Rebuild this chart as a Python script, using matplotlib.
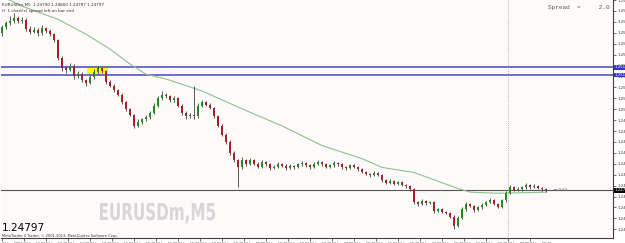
import numpy as np
import matplotlib
matplotlib.use('Agg')
import matplotlib.pyplot as plt
from matplotlib.textpath import TextPath
from matplotlib.patches import PathPatch
from matplotlib.font_manager import FontProperties
from matplotlib.transforms import Affine2D

# prices in points above 1.24000 (1 point = 0.00001)
opens = [1230,1245,1256,1262,1270,1262,1266,1240,1232,1238,
         1228,1242,1236,1226,1210,1160,1132,1128,1140,1110,
         1118,1100,1092,1108,1122,1132,1124,1096,1085,1072,
         1060,1040,1020,1005,975,985,992,998,1010,1030,
         1050,1060,1055,1044,1050,1030,1010,1000,1004,1000,
         1030,1040,1032,1024,1000,975,950,930,900,880,
         860,880,870,880,870,862,875,868,858,862,
         870,865,858,864,860,868,872,866,860,870,
         875,868,862,866,872,868,860,858,866,862,
         855,848,842,838,845,840,825,818,822,815,
         820,812,808,800,765,760,768,762,764,740,
         745,738,735,725,700,722,745,760,755,742,
         750,758,765,770,760,752,770,790,805,798,
         800,806,812,806,810,804,800]
closes = [1245,1256,1262,1270,1262,1266,1240,1232,1238,1228,
          1242,1236,1226,1210,1160,1132,1128,1140,1110,1118,
          1100,1092,1108,1122,1132,1124,1096,1085,1072,1060,
          1040,1020,1005,975,985,992,998,1010,1030,1050,
          1060,1055,1044,1050,1030,1010,1000,1004,1000,1030,
          1040,1032,1024,1000,975,950,930,900,880,860,
          880,870,880,870,862,875,868,858,862,870,
          865,858,864,860,868,872,866,860,870,875,
          868,862,866,872,868,860,858,866,862,855,
          848,842,838,845,840,825,818,822,815,820,
          812,808,800,765,760,768,762,764,740,745,
          738,735,725,700,722,745,760,755,742,750,
          758,765,770,760,752,770,790,805,798,800,
          806,812,806,810,804,800,797]
highs = [1252,1262,1275,1285,1276,1272,1270,1248,1245,1242,
         1250,1246,1240,1230,1214,1166,1140,1146,1143,1124,
         1121,1104,1114,1130,1138,1136,1128,1100,1090,1076,
         1064,1043,1024,1008,992,996,1004,1015,1036,1056,
         1070,1064,1058,1056,1053,1034,1014,1010,1084,1036,
         1046,1043,1036,1027,1004,978,955,934,904,884,
         888,884,886,883,874,880,878,871,867,876,
         873,868,869,867,873,878,875,869,875,880,
         878,871,870,877,875,871,864,870,869,865,
         858,851,845,850,848,843,828,827,825,824,
         823,815,811,803,769,772,771,768,767,749,
         748,741,738,728,726,750,765,763,758,754,
         762,769,775,773,763,774,795,812,808,806,
         810,818,815,814,813,807,803]
lows = [1222,1240,1252,1258,1256,1258,1234,1226,1228,1222,
        1224,1230,1220,1205,1154,1126,1120,1124,1104,1106,
        1094,1084,1088,1104,1118,1120,1090,1080,1068,1055,
        1035,1015,1000,968,970,980,988,994,1006,1026,
        1046,1050,1040,1040,1026,1004,994,995,993,996,
        1026,1028,1020,996,970,945,925,895,874,805,
        855,865,866,866,857,858,864,854,855,858,
        861,854,855,856,857,864,862,856,857,866,
        864,858,859,862,864,856,854,855,858,851,
        844,838,834,835,836,820,814,815,811,812,
        808,804,796,760,755,757,758,759,736,737,
        734,731,720,690,696,718,741,751,738,739,
        746,754,761,756,748,749,766,786,794,795,
        796,802,802,803,800,796,793]

# moving average, read at a few bars
ma_idx = [0, 5, 14, 21, 27, 32, 36, 41, 50, 60, 70, 80, 90, 95, 103, 114, 117, 124, 136]
ma_pts = [1330, 1303, 1267, 1226, 1185, 1144, 1116, 1103, 1070, 1021, 974, 920, 884, 860, 846, 802, 792, 789, 792]

level_pts = [1135, 1114]   # blue horizontal lines
last_pts = 797
zone_bars = [21.25, 26.5]  # yellow box, bars
zone_pts = [1111, 1138]
day_sep = 126.5

time_labels = ['11 Jun 2013', '11 Jun 13:00', '11 Jun 13:30', '11 Jun 14:00', '11 Jun 14:30',
               '11 Jun 15:00', '11 Jun 15:30', '11 Jun 16:00', '11 Jun 16:30', '11 Jun 17:00',
               '11 Jun 17:30', '11 Jun 18:00', '11 Jun 18:30', '11 Jun 19:00', '11 Jun 19:30',
               '11 Jun 20:00', '11 Jun 20:30', '11 Jun 21:00', '11 Jun 21:30', '11 Jun 22:00',
               '11 Jun 22:30', '11 Jun 23:00', '11 Jun 23:30', '12 Jun 00:00', '12 Jun 00:30']

def px(p):
    return 1.24 + np.asarray(p, dtype=float)/1e5

o = px(opens); c = px(closes); h = px(highs); l = px(lows)
idx = np.arange(len(o))
up = c >= o

fig = plt.figure(figsize=(6.25, 2.43), dpi=100, facecolor='white')
ax = fig.add_axes([1/625, 5/243, 612/625, 238/243])
ax.set_facecolor('#fffafa')

ax.fill_between(zone_bars, px(zone_pts[0]), px(zone_pts[1]), color='#ffff00', lw=0, zorder=1)
for lv in level_pts:
    ax.axhline(px(lv), color='#6262c8', lw=1.3, zorder=2)
ax.axhline(px(last_pts), color='#555555', lw=0.8, zorder=2)
ax.axvline(day_sep, color='#a0a0a0', lw=0.6, ls=(0, (1, 1.5)), zorder=2)

ax.plot(ma_idx, px(ma_pts), color='#8fbf8f', lw=0.8, zorder=3)
ax.vlines(idx, l, h, color='#404040', lw=0.6, zorder=4)
body = np.where(np.abs(c - o) < 1e-6, 1e-6, c - o)
ax.bar(idx, body, bottom=o, width=0.72, color=np.where(up, '#218a21', '#a3222e'), lw=0, zorder=5)

ax.set_xlim(-0.25, 152.75)
ax.set_ylim(px(666), px(1316))

yt = np.arange(1.2469, 1.2532, 0.0003)
ax.yaxis.tick_right()
ax.set_yticks(yt)
ax.set_yticklabels(['%.5f' % v for v in yt], fontsize=2.8, color='#333333')
ax.set_xticks(np.arange(len(time_labels))*5.5)
ax.set_xticklabels(time_labels, fontsize=2.4, color='#333333', ha='left')
ax.tick_params(axis='both', length=2, width=0.5, pad=1, colors='#333333')
for s in ['top', 'left']:
    ax.spines[s].set_visible(False)
for s in ['right', 'bottom']:
    ax.spines[s].set_color('#404040')
    ax.spines[s].set_linewidth(0.8)

ytr = ax.get_yaxis_transform()
for lv in level_pts:
    ax.text(1.002, px(lv), '%.5f' % px(lv), transform=ytr, fontsize=2.8, color='white',
            va='center', ha='left', bbox=dict(fc='#3434c8', ec='none', pad=0.3), clip_on=False)
ax.text(1.002, px(last_pts), '%.5f' % px(last_pts), transform=ytr, fontsize=2.8, color='white',
        va='center', ha='left', bbox=dict(fc='black', ec='none', pad=0.3), clip_on=False)
ax.text(len(o) + 1, px(last_pts), '\u2190 0.62', fontsize=2.8, color='#555555', va='center')

fig.text(0.004, 0.988, 'EURUSDm,M5  1.24790 1.24800 1.24787 1.24797', fontsize=3, va='top', color='#333333')
fig.text(0.004, 0.963, 'H  1 chart(s) spread left on bar end', fontsize=3, va='top', color='#333333')
fig.text(548/625, 1 - 8/243, 'Spread  =     2.0', fontsize=4.4, family='Liberation Mono',
         color='#555555', va='center')

# condensed watermark: bold glyph outlines squeezed sideways
tp = TextPath((0, 0), 'EURUSDm,M5', size=24, prop=FontProperties(family='DejaVu Sans', weight='bold'))
ext = tp.get_extents()
sx = 115 / ext.width
sy = 17 / (0.729 * 24)
wm = PathPatch(tp, transform=Affine2D().translate(-ext.x0, 0).scale(sx, sy).translate(100, 243 - 220),
               fc='#d6d6d6', ec='none')
fig.add_artist(wm)

fig.text(2/625, 1 - 231/243, '1.24797', fontsize=7.5, color='black', va='baseline')
fig.text(2/625, 1 - 236.5/243, 'MetaTrader 4 Trader, \u00a9 2001-2013, MetaQuotes Software Corp.',
         fontsize=2.6, color='#333333', va='baseline')

fig.savefig('out.png', dpi=100)
